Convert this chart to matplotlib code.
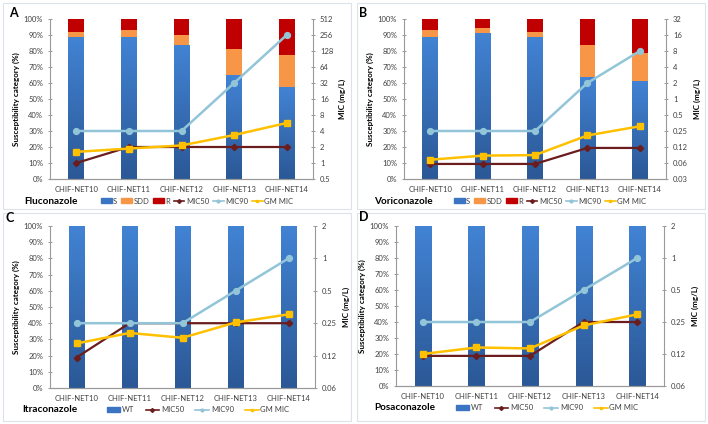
import numpy as np
import matplotlib
matplotlib.use("Agg")
import matplotlib.pyplot as plt
from matplotlib.patches import Rectangle
from matplotlib.lines import Line2D

plt.rcParams['font.family'] = ['Lato', 'DejaVu Sans']

sites = ['CHIF-NET10', 'CHIF-NET11', 'CHIF-NET12', 'CHIF-NET13', 'CHIF-NET14']

# Fluconazole
flu_s = [88.5, 88.8, 83.5, 65.0, 57.5]
flu_sdd = [3.5, 4.2, 6.5, 16.0, 20.0]
flu_r = [8.0, 7.0, 10.0, 19.0, 22.5]
flu_mic50 = [1, 2, 2, 2, 2]
flu_mic90 = [4, 4, 4, 32, 256]
flu_gm = [1.62, 1.87, 2.14, 3.36, 5.66]
flu_ticks = ['0.5', '1', '2', '4', '8', '16', '32', '64', '128', '256', '512']

# Voriconazole
vor_s = [88.5, 91.5, 88.5, 64.0, 61.0]
vor_sdd = [4.5, 3.0, 3.5, 20.0, 17.5]
vor_r = [7.0, 5.5, 8.0, 16.0, 21.5]
vor_mic50 = [0.06, 0.06, 0.06, 0.12, 0.12]
vor_mic90 = [0.25, 0.25, 0.25, 2, 8]
vor_gm = [0.072, 0.086, 0.088, 0.206, 0.307]
vor_ticks = ['0.03', '0.06', '0.12', '0.25', '0.5', '1', '2', '4', '8', '16', '32']

# Itraconazole
itr_wt = [100, 100, 100, 100, 100]
itr_mic50 = [0.12, 0.25, 0.25, 0.25, 0.25]
itr_mic90 = [0.25, 0.25, 0.25, 0.5, 1]
itr_gm = [0.162, 0.203, 0.183, 0.254, 0.302]
itr_ticks = ['0.06', '0.12', '0.25', '0.5', '1', '2']

# Posaconazole
pos_wt = [100, 100, 100, 100, 100]
pos_mic50 = [0.12, 0.12, 0.12, 0.25, 0.25]
pos_mic90 = [0.25, 0.25, 0.25, 0.5, 1]
pos_gm = [0.125, 0.144, 0.141, 0.232, 0.295]
pos_ticks = ['0.06', '0.12', '0.25', '0.5', '1', '2']

BLUE = '#3a74c2'
ORANGE = '#f79646'
RED = '#c00000'
C50 = '#6b1d1d'
C90 = '#92c5d8'
CGM = '#ffc000'
GRAY = '#9a9a9a'
TXT = '#404040'

fig = plt.figure(figsize=(7.08, 4.24), dpi=100)
W, H = 708, 424


def fx(px):
    return px / W


def fy(py):
    return 1 - py / H


def gradient_bars(ax, bars):
    # Excel-like vertical gradient inside each blue bar
    grad = np.linspace(0, 1, 256).reshape(-1, 1)
    cmap = matplotlib.colors.LinearSegmentedColormap.from_list('g', ['#2b5896', '#4283d4'])
    for b in bars:
        x, y = b.get_x(), b.get_y()
        w, h = b.get_width(), b.get_height()
        im = ax.imshow(grad, extent=[x, x + w, y, y + h], origin='lower',
                       cmap=cmap, aspect='auto', zorder=2)
        im.set_clip_path(b)
        b.set_facecolor('none')


def panel(box, frame, letter, letter_xy, drug, drug_x, leg_x, stacks,
          mic50, mic90, gm, ticklabs, wt=False):
    x0, y0, x1, y1 = box
    ax = fig.add_axes([fx(x0), fy(y1), (x1 - x0) / W, (y1 - y0) / H])
    x = np.arange(len(sites))
    bw = 0.3
    handles = []
    if wt:
        bars = ax.bar(x, stacks[0], bw, color=BLUE, zorder=2)
        gradient_bars(ax, bars)
        handles.append((Rectangle((0, 0), 1, 1, color=BLUE), 'WT'))
    else:
        bottom = np.zeros(len(sites))
        for vals, col, lab in zip(stacks, [BLUE, ORANGE, RED], ['S', 'SDD', 'R']):
            bars = ax.bar(x, vals, bw, bottom=bottom, color=col, zorder=2)
            if col == BLUE:
                gradient_bars(ax, bars)
            bottom += np.array(vals)
            handles.append((Rectangle((0, 0), 1, 1, color=col), lab))
    ax.set_xlim(-0.5, len(sites) - 0.5)
    ax.set_ylim(0, 100)
    ax.set_yticks(np.arange(0, 101, 10))
    ax.set_yticklabels(['%d%%' % v for v in range(0, 101, 10)])
    ax.set_xticks(x)
    ax.set_xticklabels(sites)
    ax.set_ylabel('Susceptibility category (%)', fontsize=5.8, fontweight='bold', labelpad=3)

    ax2 = ax.twinx()
    ax2.set_yscale('log', base=2)
    lo = 2 ** np.round(np.log2(float(ticklabs[0])))
    tv = lo * 2.0 ** np.arange(len(ticklabs))
    ax2.set_ylim(tv[0], tv[-1])
    ax2.set_yticks(tv)
    ax2.set_yticklabels(ticklabs)
    ax2.minorticks_off()
    ax2.set_ylabel('MIC (mg/L)', fontsize=5.8, fontweight='bold', rotation=90, labelpad=4)
    ax2.plot(x, mic50, color=C50, lw=1.6, marker='D', ms=3.2, zorder=3)
    ax2.plot(x, mic90, color=C90, lw=1.8, marker='o', ms=4.2, zorder=3)
    ax2.plot(x, gm, color=CGM, lw=1.8, marker='s', ms=4.2, zorder=4)
    handles += [(Line2D([], [], color=C50, lw=1.2, marker='D', ms=2), 'MIC50'),
                (Line2D([], [], color=C90, lw=1.2, marker='o', ms=2), 'MIC90'),
                (Line2D([], [], color=CGM, lw=1.2, marker='s', ms=2), 'GM MIC')]

    for a in (ax, ax2):
        for s in a.spines.values():
            s.set_color(GRAY)
            s.set_linewidth(0.8)
        a.spines['top'].set_visible(False)
        a.tick_params(labelsize=5.5, colors=TXT, length=3, width=0.7,
                      direction='inout', color=GRAY)
    ax.tick_params(axis='x', length=0, pad=5)
    ax.spines['right'].set_visible(False)
    ax2.spines['left'].set_visible(False)

    # legend row below the axis
    fig.text(fx(drug_x), fy(y1 + 22), drug, fontsize=7.2, fontweight='bold',
             va='center', ha='left', color='black')
    fig.legend([h for h, _ in handles], [l for _, l in handles],
               loc='center', bbox_to_anchor=(fx(leg_x), fy(y1 + 22)),
               ncol=len(handles), frameon=False, fontsize=5.5,
               handlelength=1.4 if not wt else 1.8,
               handletextpad=0.2, columnspacing=0.5 if not wt else 1.5,
               labelcolor=TXT, handleheight=0.6, borderpad=0, borderaxespad=0)
    fig.text(fx(letter_xy[0]), fy(letter_xy[1]), letter, fontsize=9, fontweight='bold',
             va='center', ha='left')
    bx0, by0, bx1, by1 = frame
    fig.patches.append(Rectangle((fx(bx0), fy(by1)), (bx1 - bx0) / W, (by1 - by0) / H,
                                 transform=fig.transFigure, fill=False,
                                 edgecolor='#dbe3ea', lw=0.8))


panel((50, 19, 313, 179), (3, 3, 351, 209), 'A', (9, 13), 'Fluconazole', 24, 197,
      [flu_s, flu_sdd, flu_r], flu_mic50, flu_mic90, flu_gm, flu_ticks)
panel((404, 19, 666, 179), (357, 3, 705, 209), 'B', (359, 13), 'Voriconazole', 374, 550,
      [vor_s, vor_sdd, vor_r], vor_mic50, vor_mic90, vor_gm, vor_ticks)
panel((50, 226, 315, 388), (3, 213, 351, 421), 'C', (5, 218), 'Itraconazole', 22, 198,
      [itr_wt], itr_mic50, itr_mic90, itr_gm, itr_ticks, wt=True)
panel((396, 226, 664, 386), (357, 213, 705, 421), 'D', (359, 217), 'Posaconazole', 374, 547,
      [pos_wt], pos_mic50, pos_mic90, pos_gm, pos_ticks, wt=True)

fig.savefig('out.png', dpi=100)
